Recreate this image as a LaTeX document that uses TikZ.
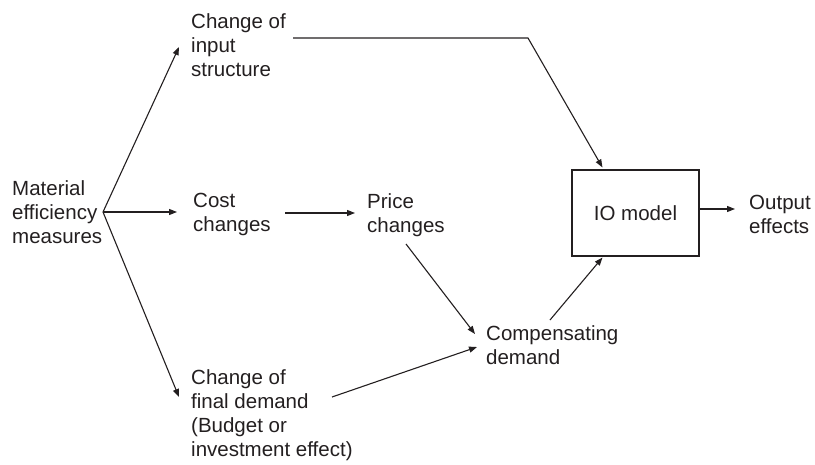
\documentclass[tikz,border=0pt]{standalone}
\usepackage{fontspec}
\setmainfont{Liberation Sans}
\usetikzlibrary{arrows.meta,calc}
\definecolor{ink}{RGB}{35,31,32}
\begin{document}
\begin{tikzpicture}[x=1pt,y=-1pt,
  label/.style={anchor=north west,inner sep=0pt,align=left,text=ink,
    font=\fontsize{20.5}{24}\selectfont},
  flow/.style={draw=ink,line width=1.1pt,-{Triangle[length=8pt,width=6pt]}},
  model/.style={draw=ink,line width=1.1pt,minimum width=127pt,minimum height=86pt,
    inner sep=0pt,text=ink,font=\fontsize{20.5}{24}\selectfont}]
\useasboundingbox (0,0) rectangle (815,464);

% text blocks
\node[label] (mem)   at (12,180)  {Material\\efficiency\\measures};
\node[label] (cis)   at (191,13)  {Change of\\input\\structure};
\node[label] (cost)  at (193,193) {Cost\\changes};
\node[label] (price) at (367,193) {Price\\changes};
\node[label] (cfd)   at (191,369) {Change of\\final demand\\(Budget or\\investment effect)};
\node[label] (comp)  at (486,325) {Compensating\\demand};
\node[model] (io)    at (635.5,213) {IO model};
\node[label] (out)   at (749,195) {Output\\effects};

% common origin of the three branches
\coordinate (fork) at ($(mem.north west)+(91,32)$);

% branches
\draw[flow] (fork) -- ($(cis.north west)+(-12,34)$);
\draw[flow] (fork) -- ($(cost.north west)+(-16,19)$);
\draw[flow] (fork) -- ($(cfd.north west)+(-12,28)$);

% chain of effects
\draw[flow] ($(cost.north west)+(92,20)$) -- ($(price.north west)+(-12,20)$);
\draw[flow] ($(price.north west)+(39,51)$) -- ($(comp.north west)+(-11,9)$);
\draw[flow] ($(cfd.north west)+(141,28)$) -- ($(comp.north west)+(-9,22)$);
\draw[flow] ($(comp.north west)+(64,-5)$) -- ($(io.south west)+(31,1)$);
\draw[flow] ($(cis.north west)+(102,25)$) -- ($(cis.north west)+(337,25)$)
  -- ($(io.north west)+(31,-2)$);
\draw[flow] (io.east) ++(0,-4) -- ($(out.north west)+(-14,14)$);
\end{tikzpicture}
\end{document}
